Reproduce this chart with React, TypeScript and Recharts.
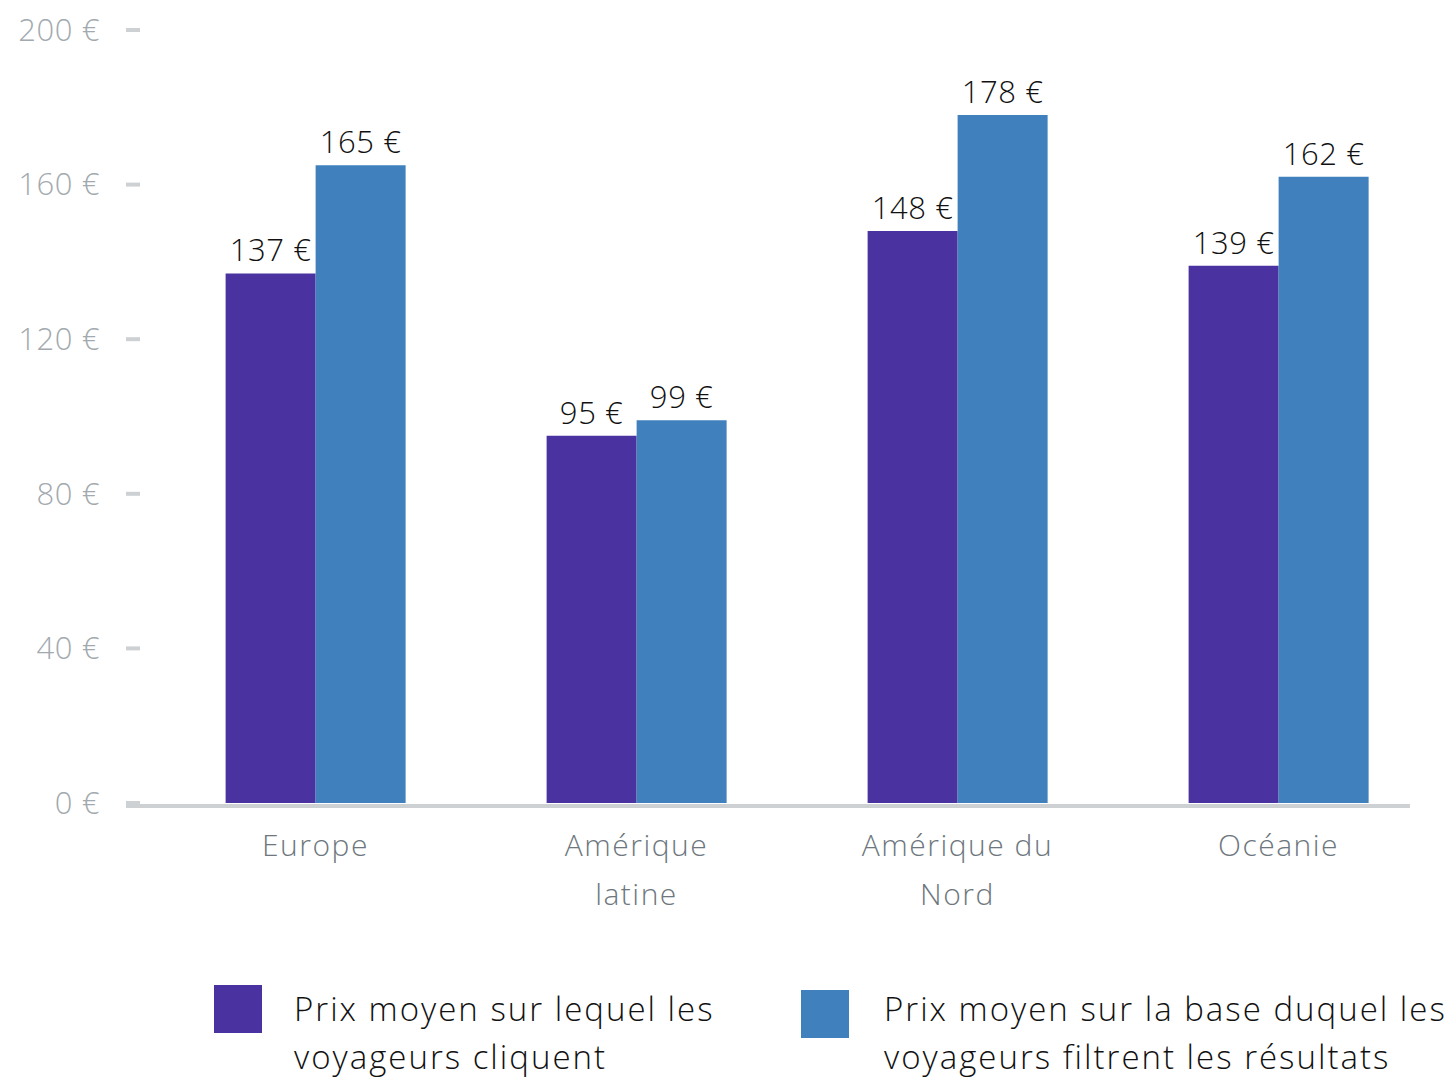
import { BarChart, Bar, XAxis, YAxis, Legend, LabelList } from "recharts";

const categories = ["Europe", "Amérique\nlatine", "Amérique du\nNord", "Océanie"];
const clickPrices = [137, 95, 148, 139];
const filterPrices = [165, 99, 178, 162];
const yTicks = [0, 40, 80, 120, 160, 200];

const seriesNames = [
  "Prix moyen sur lequel les voyageurs cliquent",
  "Prix moyen sur la base duquel les voyageurs filtrent les résultats",
];
const legendLines = [
  ["Prix moyen sur lequel les", "voyageurs cliquent"],
  ["Prix moyen sur la base duquel les", "voyageurs filtrent les résultats"],
];

const PURPLE = "#4a33a0";
const BLUE = "#4080bd";
const FONT = "'Open Sans', Lato, sans-serif";

const data = categories.map((name, i) => ({
  name,
  click: clickPrices[i],
  filter: filterPrices[i],
}));

const euro = (v: number) => `${v} €`;

const YTick = ({ x, y, payload }: any) => (
  <g>
    <line x1={x - 29} x2={x - 15} y1={y} y2={y} stroke="#cdd1d4" strokeWidth={4} />
    <text
      x={x - 55}
      y={y}
      dy="0.35em"
      textAnchor="end"
      fill="#a3aaaf"
      fontSize={31}
      fontWeight={300}
      letterSpacing={0.6}
      fontFamily={FONT}
    >
      {euro(payload.value)}
    </text>
  </g>
);

const XTick = ({ x, y, payload }: any) => {
  const lines = String(payload.value).split("\n");
  return (
    <text
      x={x}
      y={y}
      textAnchor="middle"
      fill="#6e777e"
      fontSize={30}
      fontWeight={300}
      letterSpacing={1.5}
      fontFamily={FONT}
    >
      {lines.map((line, i) => (
        <tspan key={i} x={x} dy={i === 0 ? 53 : 49}>
          {line}
        </tspan>
      ))}
    </text>
  );
};

const LegendContent = () => {
  const colors = [PURPLE, BLUE];
  return (
    <div style={{ display: "flex", width: 1452, fontFamily: FONT }}>
      {legendLines.map((lines, i) => (
        <div
          key={i}
          style={{
            display: "flex",
            marginLeft: i === 0 ? 214 : 0,
            width: i === 0 ? 587 : 651,
            alignItems: "flex-start",
          }}
        >
          <div
            style={{
              width: 48,
              height: 48,
              background: colors[i],
              marginTop: i === 0 ? 0 : 5,
              flex: "none",
            }}
          />
          <div
            style={{
              marginLeft: i === 0 ? 32 : 35,
              fontSize: 33,
              fontWeight: 300,
              letterSpacing: 2,
              lineHeight: "48px",
              color: "#111",
              whiteSpace: "nowrap",
            }}
          >
            {lines.map((l, j) => (
              <div key={j}>{l}</div>
            ))}
          </div>
        </div>
      ))}
    </div>
  );
};

export default function App() {
  return (
    <div style={{ position: "absolute", left: 0, top: 0, background: "#fff" }}>
      <BarChart
        width={1452}
        height={1079}
        data={data}
        margin={{ top: 30, right: 13, bottom: 0, left: 0 }}
        barCategoryGap="22%"
        barGap={0}
      >
        <XAxis
          dataKey="name"
          interval={0}
          tickLine={false}
          tickSize={0}
          tickMargin={0}
          height={180}
          axisLine={{ stroke: "#cdd1d4", strokeWidth: 4, transform: "translate(-29, 3)" } as any}
          tick={<XTick />}
        />
        <YAxis
          domain={[0, 200]}
          ticks={yTicks}
          width={155}
          axisLine={false}
          tickLine={false}
          tickSize={0}
          tickMargin={0}
          tick={<YTick />}
        />
        <Legend
          verticalAlign="bottom"
          height={96}
          content={<LegendContent />}
          wrapperStyle={{ left: 0, top: 985, bottom: "auto", width: 1452 }}
        />
        <Bar dataKey="click" name={seriesNames[0]} fill={PURPLE} isAnimationActive={false}>
          <LabelList
            dataKey="click"
            position="top"
            offset={12}
            formatter={(v: any) => euro(v)}
            style={{ fill: "#111", fontSize: 31, fontWeight: 300, letterSpacing: 0.6, fontFamily: FONT }}
          />
        </Bar>
        <Bar dataKey="filter" name={seriesNames[1]} fill={BLUE} isAnimationActive={false}>
          <LabelList
            dataKey="filter"
            position="top"
            offset={12}
            formatter={(v: any) => euro(v)}
            style={{ fill: "#111", fontSize: 31, fontWeight: 300, letterSpacing: 0.6, fontFamily: FONT }}
          />
        </Bar>
      </BarChart>
    </div>
  );
}
